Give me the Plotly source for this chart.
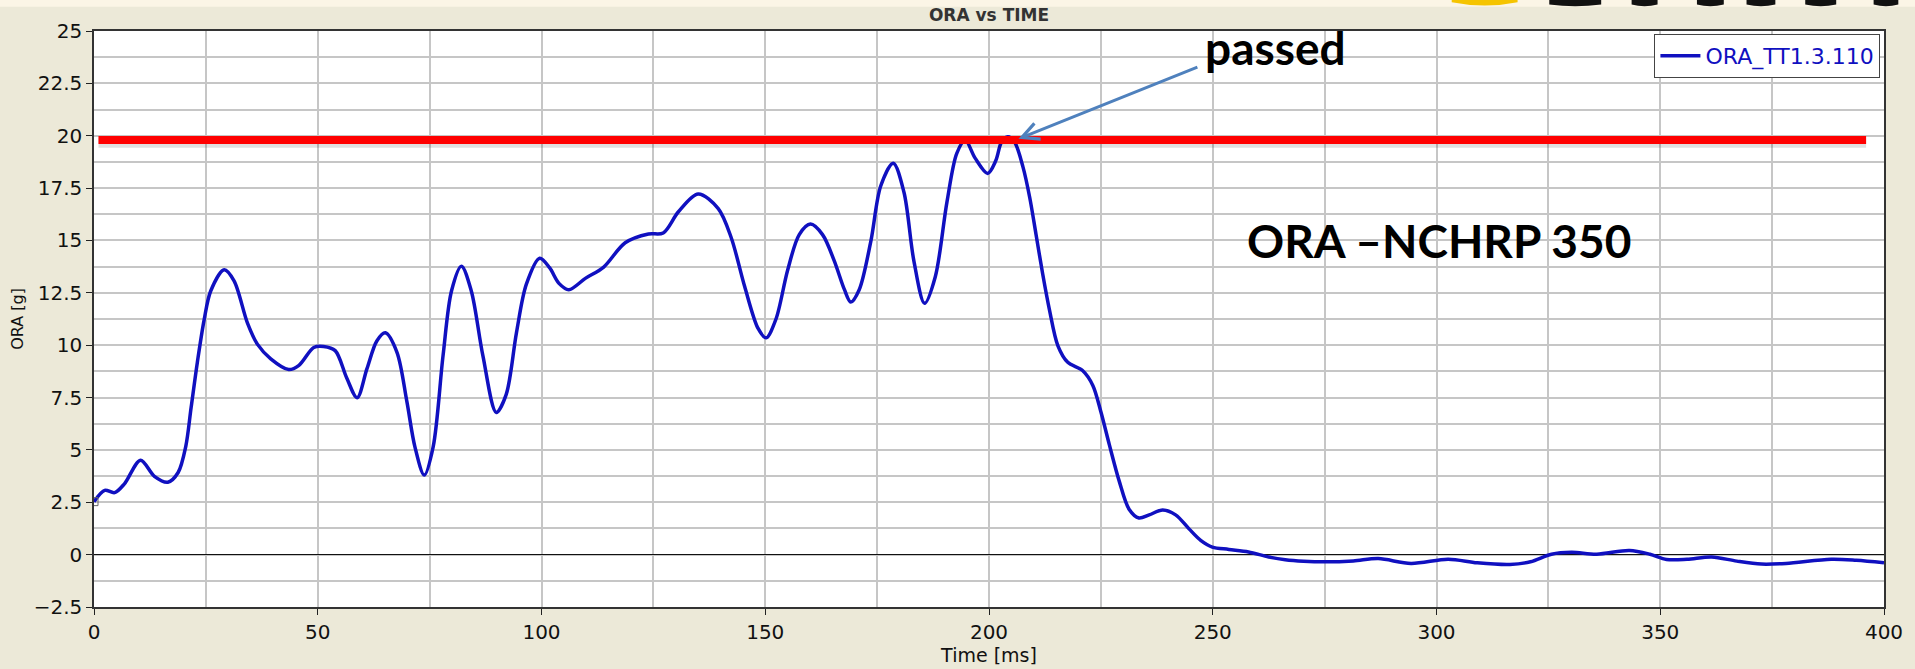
import plotly.graph_objects as go

# ORA curve (time in ms, ORA in g)
time_ms = [0, 2.4, 4.6, 6.8, 10.4, 13.5, 16.5, 18.8, 20.5, 21.7, 23.1, 24.6, 26.1, 29.1,
           31.3, 34.3, 36.5, 39.5, 43.5, 45.8, 49.1, 51.3, 53.9, 56.5, 58.8, 61.0, 63.2,
           65.1, 67.7, 69.9, 71.7, 73.8, 75.8, 78.0, 79.9, 82.1, 84.3, 86.9, 89.9, 92.1,
           94.4, 96.6, 99.6, 101.8, 103.9, 106.1, 109.8, 113.9, 118.7, 123.9, 127.2, 130.6,
           135.0, 139.5, 142.4, 145.4, 148.4, 150.2, 152.4, 155.0, 157.6, 160.1, 162.8,
           165.4, 167.7, 169.1, 171.0, 173.6, 175.8, 178.6, 181.0, 183.2, 185.6, 188.0,
           190.6, 192.8, 194.7, 196.9, 199.7, 201.5, 202.8, 204.2, 205.7, 207.6, 209.1,
           210.5, 212.0, 213.5, 215.4, 217.6, 220.9, 223.2, 225.0, 226.9, 229.1, 231.3,
           233.5, 235.8, 238.8, 241.7, 244.7, 247.3, 249.9, 253.6, 258.0, 262.5, 266.2,
           270.3, 275, 281.4, 287, 294.3, 302.6, 309.1, 316.4, 321, 325.7, 330.2, 335.8,
           343.1, 347.7, 351.4, 356, 361.5, 367.1, 372.6, 378.1, 388.2, 393.8, 400]
ora_g = [2.53, 3.07, 2.96, 3.38, 4.51, 3.74, 3.46, 3.92, 5.16, 7.02, 9.19, 11.2, 12.6, 13.6,
         13.07, 11.05, 10.05, 9.35, 8.84, 9.04, 9.89, 9.94, 9.74, 8.42, 7.49, 8.88, 10.2,
         10.59, 9.66, 7.33, 5.16, 3.8, 5.16, 9.5, 12.6, 13.77, 12.6, 9.5, 6.79, 7.64,
         10.59, 12.9, 14.15, 13.7, 12.95, 12.65, 13.19, 13.73, 14.89, 15.31, 15.36, 16.37,
         17.22, 16.52, 15.13, 12.8, 10.8, 10.35, 11.25, 13.58, 15.28, 15.78, 15.28,
         14.04, 12.65, 12.06, 12.65, 14.97, 17.6, 18.69, 17.3, 14.04, 12.0, 13.27,
         16.83, 19.16, 19.78, 18.93, 18.2, 18.8, 19.7, 19.95, 19.7, 18.5, 17.05,
         15.3, 13.4, 11.7, 9.97, 9.18, 8.79, 8.08, 6.82, 5.24, 3.51, 2.17,
         1.75, 1.9, 2.13, 1.9, 1.23, 0.68, 0.36, 0.25, 0.13, -0.11, -0.24,
         -0.31, -0.34, -0.3, -0.19, -0.42, -0.22, -0.39, -0.47, -0.34, 0.02, 0.11, 0.02,
         0.2, 0.02, -0.23, -0.22, -0.11, -0.31, -0.45, -0.42, -0.22, -0.27, -0.39]

limit_g = 19.8          # red limit line
limit_span = [1, 396]   # where the red bar was drawn

x_ticks = [0, 50, 100, 150, 200, 250, 300, 350, 400]
y_ticks = [-2.5, 0, 2.5, 5, 7.5, 10, 12.5, 15, 17.5, 20, 22.5, 25]

fig = go.Figure()

fig.add_trace(go.Scatter(x=time_ms, y=ora_g,
                         mode='lines',
                         name='ORA_TT1.3.110',
                         line=dict(color='#1010c0', width=3.5, shape='spline', smoothing=0.9),
                         ))
fig.add_trace(go.Scatter(x=time_ms[:1], y=ora_g[:1],
                         mode='markers',
                         showlegend=False,
                         marker=dict(symbol='square-open', size=8, color='#666666'),
                         ))

# shadow + red limit bar
fig.add_shape(type='line', x0=limit_span[0], x1=limit_span[1], y0=limit_g - 0.14, y1=limit_g - 0.14,
              line=dict(color='rgba(0,0,0,0.12)', width=10))
fig.add_shape(type='line', x0=limit_span[0], x1=limit_span[1], y0=limit_g, y1=limit_g,
              line=dict(color='#ff0000', width=8))

# light strip and cut-off logo at the very top
fig.add_shape(type='rect', xref='paper', yref='paper', x0=-0.06, x1=1.02, y0=1.0423, y1=1.06,
              fillcolor='#fbf5e6', line_width=0, layer='below')
fig.add_shape(type='path', xref='paper', yref='paper',
              path='M 0.7585 1.06 L 0.7585 1.050 Q 0.777 1.0385 0.7953 1.050 L 0.7953 1.06 Z',
              fillcolor='#f5c400', line_width=0)
for a, b in [(0.8130, 0.8420), (0.8590, 0.8735), (0.8955, 0.9105), (0.9232, 0.9393),
             (0.9560, 0.9733), (0.9942, 1.0080)]:
    fig.add_shape(type='path', xref='paper', yref='paper',
                  path=f'M {a} 1.06 L {a} 1.046 Q {(a + b) / 2} 1.040 {b} 1.046 L {b} 1.06 Z',
                  fillcolor='#111111', line_width=0)

fig.add_annotation(x=206.6, y=19.85, ax=246.9, ay=23.3, xref='x', yref='y', axref='x', ayref='y',
                   text='', showarrow=True, arrowhead=5, arrowsize=1.1, arrowwidth=3,
                   arrowcolor='#4f81bd', standoff=0)
fig.add_annotation(x=264, y=24.2, xref='x', yref='y', text='<b>passed</b>', showarrow=False,
                   font=dict(family='Lato', size=46, color='#000000', shadow='none'))
fig.add_annotation(x=300.5, y=15.0, xref='x', yref='y', text='<b>ORA \u2013NCHRP 350</b>',
                   showarrow=False, font=dict(family='Lato', size=46, color='#000000', shadow='none'))

fig.update_layout(
    width=1915, height=669,
    margin=dict(l=94, r=24, t=31, b=47),
    paper_bgcolor='#ece9d8',
    plot_bgcolor='#ffffff',
    font=dict(family='DejaVu Sans', size=18, color='#111111'),
    title=dict(text='ORA vs TIME', x=0.5, xref='paper', y=0.978, yanchor='middle',
               font=dict(family='DejaVu Sans', size=17, color='#333333', weight='bold')),
    showlegend=True,
    legend=dict(x=0.998, y=0.995, xanchor='right', yanchor='top',
                bgcolor='#ffffff', bordercolor='#444444', borderwidth=1,
                font=dict(family='DejaVu Sans', size=22, color='#1010c0'),
                itemwidth=40, tracegroupgap=0),
)

fig.update_xaxes(range=[0, 400], tickvals=x_ticks, ticks='outside', ticklen=6, tickcolor='#222222',
                 showline=True, linecolor='#333333', linewidth=1.5, mirror=True,
                 showgrid=True, gridcolor='#c6c6c6', gridwidth=1.5,
                 minor=dict(dtick=25, tick0=0, showgrid=True, gridcolor='#c6c6c6', gridwidth=1.5),
                 zeroline=False,
                 tickfont=dict(size=20),
                 title=dict(text='Time [ms]', font=dict(size=19), standoff=0))
fig.update_yaxes(range=[-2.5, 25], tickvals=y_ticks, ticks='outside', ticklen=6, tickcolor='#222222',
                 showline=True, linecolor='#333333', linewidth=1.5, mirror=True,
                 showgrid=True, gridcolor='#c6c6c6', gridwidth=1.5,
                 minor=dict(dtick=1.25, tick0=0, showgrid=True, gridcolor='#c6c6c6', gridwidth=1.5),
                 zeroline=True, zerolinecolor='#111111', zerolinewidth=1,
                 tickfont=dict(size=20),
                 title=dict(text='ORA [g]', font=dict(size=16), standoff=6))

# the page body has a default 8px margin; drop it so the figure fills the window
fig.write_html("out.html", config={'displayModeBar': False},
               post_script="document.body.style.margin='0';")
